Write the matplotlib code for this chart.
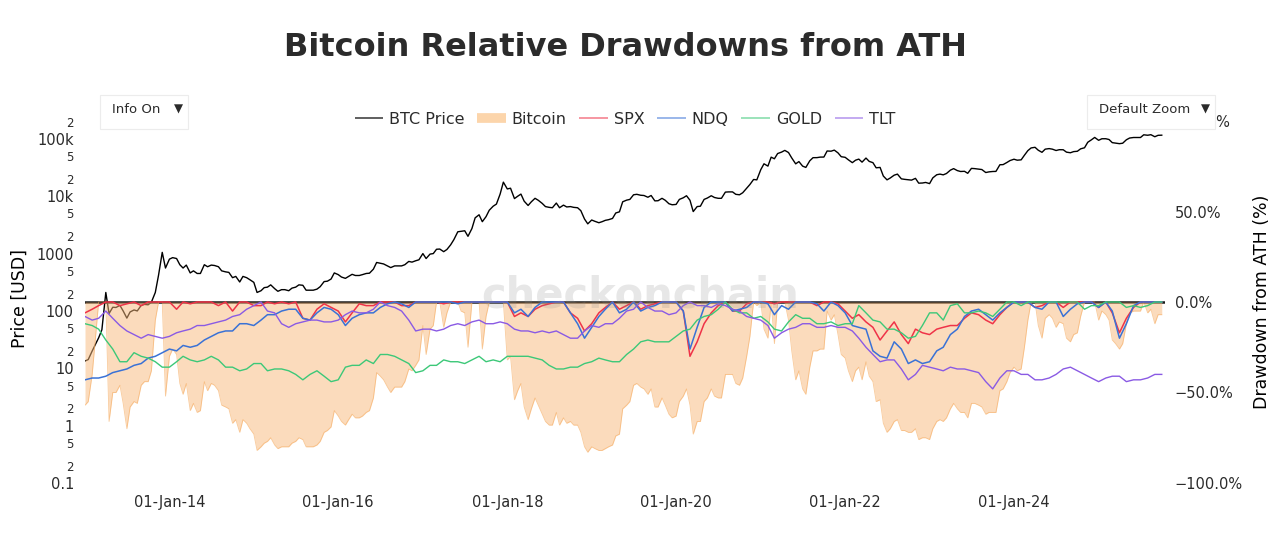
import matplotlib

matplotlib.use("Agg")
import matplotlib.pyplot as plt
import matplotlib.dates as mdates
from matplotlib.lines import Line2D
from matplotlib.patches import Rectangle
import pandas as pd

plt.rcParams["font.family"] = ["DejaVu Sans"]

# BTC, twice a month (1st and 15th), Jan-2013 .. 01-Oct-2025
btc_dates = pd.date_range("2013-01-01", "2025-10-01", freq="SMS")
btc_price = [
    13.4, 14.2, 20, 26, 34, 47, 210, 90, 116, 115, 125, 100, 75, 96, 104, 100, 125, 130, 128, 142, 210, 420, 1050, 560,
    800, 850, 820, 640, 560, 630, 460, 500, 450, 450, 640, 590, 630, 620, 590, 500, 480, 470, 380, 400, 320, 400, 380, 350,
    315, 210, 225, 255, 260, 285, 245, 220, 235, 235, 225, 250, 260, 285, 280, 230, 230, 230, 240, 265, 325, 330, 360, 460,
    430, 390, 370, 400, 435, 415, 415, 430, 450, 455, 535, 700, 680, 660, 610, 570, 610, 610, 610, 640, 730, 710, 750, 780,
    1000, 820, 980, 1000, 1190, 1200, 1080, 1180, 1420, 1750, 2400, 2450, 2500, 2000, 2730, 4200, 4750, 3600, 4400, 5700, 6700, 7300, 10900, 17600,
    13400, 13800, 9100, 10000, 10900, 8200, 6900, 8000, 9200, 8500, 7500, 6600, 6400, 6300, 7600, 6300, 7000, 6500, 6600, 6400, 6300, 5600, 4000, 3300,
    3850, 3650, 3450, 3600, 3800, 3900, 4100, 5100, 5350, 8000, 8550, 8800, 10600, 10800, 10400, 10300, 9600, 10300, 8300, 8350, 9200, 8500, 7400, 7100,
    7200, 8800, 9400, 10200, 8500, 5400, 6600, 6700, 8800, 9300, 10200, 9500, 9200, 9200, 11800, 11900, 11900, 10800, 10600, 11500, 13800, 16000, 19600, 19300,
    29000, 36800, 33500, 48000, 45000, 55500, 58800, 63000, 57800, 46500, 36700, 40200, 33500, 31800, 41500, 47000, 47100, 48100, 48200, 61500, 61000, 63700, 57000, 48900,
    47700, 43100, 38500, 42500, 44400, 39300, 46300, 40500, 38500, 31300, 31800, 22500, 19300, 20800, 23300, 24300, 20100, 19700, 19400, 19100, 20500, 16900, 17000, 17400,
    16600, 20900, 23700, 24300, 23600, 24900, 28500, 30300, 28000, 27000, 27200, 25100, 30600, 30300, 29700, 29200, 25900, 26600, 27000, 27100, 35400, 35600, 38700, 41900,
    44200, 42500, 43100, 51800, 62400, 69500, 71300, 63400, 58300, 66200, 67700, 66200, 62700, 64800, 64600, 58700, 57300, 60000, 60800, 67000, 70000, 87300, 96400, 106000,
    94400, 100500, 100600, 97500, 86000, 84300, 82500, 84000, 96500, 103500, 105700, 105500, 105700, 117800, 115700, 118300, 109000, 115400, 116000,
]
btc_dd = [
    -57, -55, -40, -20, 0, 0, 0, -66, -50, -50, -46, -56, -70, -58, -55, -56, -46, -44, -44, -38, -10, 0, 0, -52,
    -30, -26, -29, -45, -51, -45, -60, -56, -61, -60, -44, -49, -45, -46, -49, -57, -58, -59, -67, -65, -72, -65, -67, -70,
    -73, -82, -80, -78, -77, -75, -79, -81, -80, -80, -80, -78, -77, -75, -76, -80, -80, -80, -79, -77, -72, -71, -69, -60,
    -63, -66, -68, -65, -62, -64, -64, -63, -61, -60, -53, -39, -41, -43, -47, -50, -47, -47, -47, -44, -37, -38, -35, -32,
    -13, -29, -15, -13, 0, 0, -14, -6, 0, 0, 0, -5, -6, -25, 0, 0, 0, -26, -8, 0, 0, 0, 0, 0,
    -32, -30, -54, -49, -45, -58, -65, -59, -53, -57, -62, -66, -68, -68, -61, -68, -64, -67, -66, -68, -68, -72, -80, -83,
    -80, -81, -82, -82, -81, -80, -79, -74, -73, -59, -57, -55, -46, -45, -47, -48, -51, -48, -58, -58, -53, -57, -62, -64,
    -63, -55, -52, -48, -57, -73, -66, -66, -55, -53, -48, -52, -53, -53, -40, -40, -40, -45, -46, -42, -30, -19, 0, -2,
    0, -15, -20, 0, -23, 0, 0, 0, -10, -27, -43, -38, -48, -51, -36, -27, -27, -26, -26, -5, -10, -7, -18, -29,
    -31, -38, -44, -38, -36, -43, -33, -41, -44, -55, -54, -67, -72, -70, -66, -65, -71, -71, -72, -72, -70, -76, -75, -75,
    -76, -70, -66, -65, -66, -64, -59, -56, -59, -61, -61, -64, -56, -56, -57, -58, -62, -61, -61, -61, -49, -48, -44, -39,
    -36, -38, -37, -25, -10, 0, 0, -13, -20, -9, -7, -9, -14, -11, -12, -20, -22, -18, -17, -8, 0, 0, 0, 0,
    -10, -5, -7, -10, -21, -23, -26, -23, -12, -6, -5, -5, -5, 0, -6, -4, -12, -7, -7,
]

# other assets, monthly (1st of month), drawdown from ATH in %
asset_dates = pd.date_range("2013-01-01", "2025-10-01", freq="MS")
spx_dd = [
    -6, -4, -2, 0, 0, -2, -1, 0, -2, 0, 0, 0,
    0, -4, 0, -1, 0, 0, 0, -2, 0, -5, 0, 0,
    -2, -2, 0, -1, 0, -1, 0, -9, -10, -4, -1, -3,
    -5, -11, -6, -1, -2, -2, 0, 0, 0, -2, -2, 0,
    0, 0, 0, -1, 0, 0, 0, 0, 0, 0, 0, 0,
    0, -8, -6, -8, -4, -2, -1, 0, 0, -6, -9, -16,
    -12, -6, -3, 0, -4, -2, 0, -4, -2, -1, 0, 0,
    0, -5, -30, -22, -12, -6, -2, 0, -5, -5, -1, 0,
    0, 0, -1, 0, 0, 0, 0, 0, -2, 0, 0, -1,
    -5, -9, -7, -11, -14, -21, -16, -11, -18, -23, -15, -17,
    -18, -15, -14, -13, -13, -9, -6, -7, -10, -12, -7, -3,
    0, 0, 0, -3, -2, 0, 0, -3, 0, 0, 0, 0,
    -3, 0, -6, -17, -9, -3, 0, 0, 0, 0,
]
ndq_dd = [
    -43, -42, -42, -41, -39, -38, -37, -35, -34, -31, -30, -28,
    -26, -27, -24, -25, -24, -21, -19, -17, -16, -16, -12, -12,
    -13, -10, -7, -7, -5, -4, -4, -9, -10, -6, -3, -4,
    -7, -13, -9, -7, -6, -6, -3, -1, 0, -1, -3, 0,
    0, 0, 0, 0, 0, -1, 0, 0, 0, 0, 0, 0,
    0, -6, -4, -8, -3, 0, 0, 0, 0, -6, -12, -20,
    -14, -8, -4, 0, -6, -4, 0, -5, -3, -2, 0, 0,
    0, -5, -26, -14, -3, 0, 0, 0, -5, -4, -3, 0,
    0, -1, -7, -2, -4, 0, 0, 0, -1, -5, 0, -2,
    -6, -13, -14, -15, -27, -30, -31, -22, -26, -34, -32, -34,
    -33, -27, -25, -18, -15, -8, -5, -4, -7, -10, -6, -3,
    0, 0, 0, -3, -4, 0, 0, -8, -4, -1, 0, 0,
    -3, 0, -5, -20, -12, -2, 0, 0, 0, 0,
]
gold_dd = [
    -12, -13, -15, -21, -26, -33, -33, -28, -30, -31, -33, -36,
    -36, -33, -30, -32, -33, -32, -30, -32, -36, -36, -38, -37,
    -34, -34, -38, -37, -37, -38, -40, -43, -40, -38, -41, -44,
    -43, -36, -35, -35, -32, -34, -29, -29, -30, -32, -34, -39,
    -38, -35, -35, -32, -33, -33, -34, -32, -30, -33, -32, -33,
    -30, -30, -30, -30, -31, -32, -35, -37, -37, -36, -36, -34,
    -33, -31, -32, -33, -33, -29, -26, -22, -21, -22, -22, -22,
    -19, -16, -15, -10, -8, -7, -4, 0, -4, -6, -6, -9,
    -8, -11, -15, -16, -11, -7, -9, -9, -12, -12, -11, -13,
    -12, -12, -2, -6, -10, -11, -15, -15, -17, -20, -19, -13,
    -6, -6, -10, -2, -1, -6, -6, -5, -6, -8, -4, 0,
    0, -2, 0, 0, 0, 0, 0, 0, 0, 0, -4, -2,
    -2, 0, 0, 0, -3, -2, -3, -2, 0, 0,
]
tlt_dd = [
    -8, -10, -9, -5, -9, -13, -16, -18, -20, -18, -19, -20,
    -19, -17, -16, -15, -13, -13, -12, -11, -10, -8, -7, -4,
    -2, 0, -5, -6, -12, -14, -12, -11, -10, -10, -11, -11,
    -10, -7, -5, -6, -6, -4, 0, -2, -3, -5, -10, -16,
    -15, -15, -16, -15, -13, -12, -13, -11, -10, -12, -12, -11,
    -12, -15, -16, -16, -17, -16, -17, -16, -18, -20, -20, -16,
    -13, -14, -12, -12, -9, -5, -4, 0, -3, -5, -5, -7,
    -6, -2, 0, -2, -2, -3, -1, -2, -4, -5, -8, -9,
    -10, -13, -20, -17, -15, -14, -12, -12, -14, -14, -13, -14,
    -14, -16, -20, -25, -29, -33, -32, -32, -37, -43, -40, -35,
    -36, -37, -38, -36, -37, -37, -38, -39, -44, -48, -42, -38,
    -38, -40, -40, -43, -43, -42, -40, -37, -36, -38, -40, -42,
    -44, -42, -41, -41, -44, -43, -43, -42, -40, -40,
]

price_ticks = [0.1, 0.2, 0.5, 1, 2, 5, 10, 20, 50, 100, 200, 500,
               1000, 2000, 5000, 1e4, 2e4, 5e4, 1e5, 2e5]
price_labels = ["0.1", "2", "5", "1", "2", "5", "10", "2", "5", "100", "2", "5",
                "1000", "2", "5", "10k", "2", "5", "100k", "2"]
dd_ticks = [-100, -50, 0, 50, 100]
dd_labels = ["\u2212100.0%", "\u221250.0%", "0.0%", "50.0%", "100.0%"]

C_SPX, C_NDQ, C_GOLD, C_TLT = "#ef3348", "#3a72d6", "#3cc878", "#8a5ae4"
C_FILL = "#f9b97a"
TXT = "#2b2b2b"

fig = plt.figure(figsize=(12.8, 5.51), dpi=100)
W, H = 1280, 551
ax = fig.add_axes([85 / W, 1 - 483 / H, (1165 - 85) / W, (483 - 121) / H])
ax2 = ax.twinx()

# left axis: BTC price (log)
ax.plot(btc_dates, btc_price, color="black", lw=1.0, zorder=2)
ax.set_yscale("log")
ax.set_ylim(0.1, 2.05e5)
ax.set_yticks(price_ticks)
ax.set_yticklabels(price_labels)
ax.minorticks_off()
for lab, v in zip(ax.get_yticklabels(), price_ticks):
    major = f"{v:.0e}".startswith("1")
    lab.set_fontsize(10.5 if major else 8.5)
    lab.set_color(TXT)

# right axis: drawdowns
ax2.axhline(0, color="#1a1a1a", lw=1.8, zorder=1)
ax2.fill_between(btc_dates, btc_dd, 0, color=C_FILL, alpha=0.5, lw=0, zorder=2)
ax2.plot(btc_dates, btc_dd, color="#f5a95c", lw=0.6, alpha=0.6, zorder=2)
ax2.plot(asset_dates, spx_dd, color=C_SPX, lw=1.1, zorder=3)
ax2.plot(asset_dates, ndq_dd, color=C_NDQ, lw=1.1, zorder=3)
ax2.plot(asset_dates, gold_dd, color=C_GOLD, lw=1.0, zorder=3)
ax2.plot(asset_dates, tlt_dd, color=C_TLT, lw=1.0, zorder=3)
ax2.set_ylim(-100, 100)
ax2.set_yticks(dd_ticks)
ax2.set_yticklabels(dd_labels, fontsize=10.5, color=TXT)

ax.set_xlim(pd.Timestamp("2013-01-01"), pd.Timestamp("2025-10-15"))
ax.xaxis.set_major_locator(mdates.YearLocator(2, month=1, day=1))
ax.xaxis.set_major_formatter(mdates.DateFormatter("%d-%b-%y"))
for lab in ax.get_xticklabels():
    lab.set_fontsize(10.5)
    lab.set_color(TXT)

for a in (ax, ax2):
    for s in a.spines.values():
        s.set_visible(False)
    a.tick_params(length=0)
ax.tick_params(axis="y", pad=8)
ax.tick_params(axis="x", pad=9)
ax2.tick_params(axis="y", pad=7)

fig.text(640 / W, 1 - 296 / H, "checkonchain", fontsize=30, weight="bold",
         color="#888888", alpha=0.2, ha="center", va="center", zorder=0)

fig.text(626 / W, 1 - 48 / H, "Bitcoin Relative Drawdowns from ATH",
         fontsize=23, weight="bold", color=TXT, ha="center", va="center")
fig.text(20 / W, 1 - 298 / H, "Price [USD]", fontsize=12.5, rotation=90,
         ha="center", va="center", color="black")
fig.text(1262 / W, 1 - 302 / H, "Drawdown from ATH (%)", fontsize=12.5,
         rotation=90, ha="center", va="center", color="black")

handles = [
    Line2D([], [], color="#444444", lw=1.2, solid_capstyle="butt"),
    Line2D([], [], color="#fcd5ab", lw=7, solid_capstyle="butt"),
    Line2D([], [], color=C_SPX, lw=1.2, alpha=0.6, solid_capstyle="butt"),
    Line2D([], [], color=C_NDQ, lw=1.2, alpha=0.6, solid_capstyle="butt"),
    Line2D([], [], color=C_GOLD, lw=1.2, alpha=0.6, solid_capstyle="butt"),
    Line2D([], [], color=C_TLT, lw=1.2, alpha=0.6, solid_capstyle="butt"),
]
fig.legend(handles, ["BTC Price", "Bitcoin", "SPX", "NDQ", "GOLD", "TLT"],
           loc="center", bbox_to_anchor=(625 / W, 1 - 119 / H), ncol=6,
           frameon=False, fontsize=11.5, handlelength=1.8, handletextpad=0.35,
           columnspacing=0.8, labelcolor=TXT)

# the two dropdown buttons
for x0, x1, label in [(100, 188, "Info On"), (1087, 1215, "Default Zoom")]:
    fig.patches.append(Rectangle((x0 / W, 1 - 129 / H), (x1 - x0) / W, 34 / H,
                                 transform=fig.transFigure, facecolor="white",
                                 edgecolor="#ececec", lw=0.8, zorder=10))
    fig.text((x0 + 12) / W, 1 - 110 / H, label, fontsize=9.5, color=TXT,
             ha="left", va="center", zorder=11)
    fig.text((x1 - 10) / W, 1 - 109 / H, "\u25bc", fontsize=8.5, color=TXT,
             ha="center", va="center", zorder=11)

fig.savefig("out.png", dpi=100)
